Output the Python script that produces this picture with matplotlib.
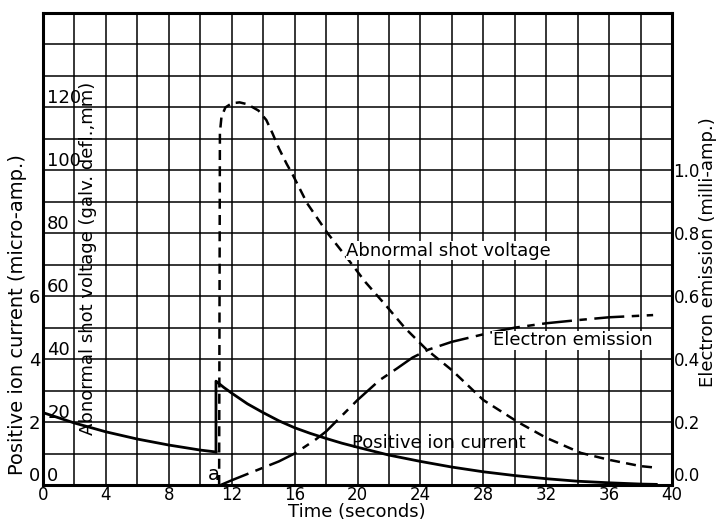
import matplotlib.pyplot as plt

plt.rcParams['font.family'] = ['DejaVu Sans']

# positive ion current (micro-amp.), before and after the shot
t_ion_before = [0, 2, 4, 6, 8, 10, 11.0]
ion_before = [2.3, 1.97, 1.69, 1.46, 1.27, 1.11, 1.05]
t_ion_after = [11.0, 11.0, 11.5, 12, 13, 14, 15, 16, 17, 18, 19, 20, 22, 24, 26, 28, 30, 32, 34, 36, 38, 39]
ion_after = [1.05, 3.3, 3.1, 2.92, 2.58, 2.3, 2.04, 1.82, 1.64, 1.48, 1.33, 1.2, 0.95, 0.75,
             0.57, 0.42, 0.3, 0.2, 0.12, 0.07, 0.03, 0.02]

# abnormal shot voltage (galv. defl., mm)
t_volt = [11.2, 11.25, 11.35, 11.6, 12.0, 12.5, 13.0, 13.7, 14.2, 14.6, 15.0, 15.5, 15.9, 16.8,
          18.1, 19.3, 20.5, 21.9, 23.0, 24.4, 26.0, 28.0, 30.2, 32.0, 34.2, 36.0, 38.0, 39.0]
volt = [0, 112, 117, 120, 121.3, 121.6, 121.0, 119, 116, 111.7, 107, 102, 98.4, 89.5,
        80, 72.4, 64.5, 56.5, 50, 43, 36.5, 27, 20, 15, 10.2, 8, 6, 5.5]

# electron emission (milli-amp.)
t_elec = [11.3, 12, 13, 14, 15, 16, 17.3, 18, 19, 20, 21.4, 22.5, 23.5, 24.5, 26, 28.6, 30, 32, 34, 36, 38.8]
elec = [0, 0.015, 0.035, 0.055, 0.075, 0.1, 0.143, 0.17, 0.22, 0.27, 0.333, 0.37, 0.405, 0.43, 0.455,
        0.486, 0.5, 0.514, 0.524, 0.533, 0.54]

time_ticks = [0, 4, 8, 12, 16, 20, 24, 28, 32, 36, 40]
ion_ticks = [0, 2, 4, 6]
volt_ticks = [0, 20, 40, 60, 80, 100, 120]
elec_ticks = [0.0, 0.2, 0.4, 0.6, 0.8, 1.0]

fig = plt.figure(figsize=(7.16, 5.23), dpi=100)
ax = fig.add_axes([43/716, 1-485/523, 629/716, 472/523])
ax.set_xlim(0, 40)
ax.set_ylim(0, 15)

# square graph paper grid
for gx in range(0, 41, 2):
    ax.axvline(gx, color='black', lw=1.1, zorder=1)
for gy in range(0, 16):
    ax.axhline(gy, color='black', lw=1.1, zorder=1)
for s in ax.spines.values():
    s.set_linewidth(2.2)

ax.set_xticks(time_ticks)
ax.set_xticklabels([str(v) for v in time_ticks], fontsize=12)
ax.set_yticks(ion_ticks)
ax.set_yticklabels([str(v) for v in ion_ticks], fontsize=13)
ax.tick_params(axis='x', length=0, pad=1)
ax.tick_params(axis='y', length=0, pad=2)
for lab in ax.get_yticklabels():
    lab.set_va('center_baseline')
ax.get_yticklabels()[0].set_va('bottom')

ax.plot(t_ion_before, ion_before, color='black', lw=2, zorder=3)
ax.plot(t_ion_after, ion_after, color='black', lw=2, zorder=3)

ax2 = ax.twinx()
ax2.set_ylim(0, 1.5)
ax2.set_yticks(elec_ticks)
ax2.set_yticklabels(['%.1f' % v for v in elec_ticks], fontsize=12)
ax2.tick_params(length=0, pad=1)
for lab in ax2.get_yticklabels():
    lab.set_va('center_baseline')
ax2.get_yticklabels()[0].set_va('bottom')
ax2.plot(t_elec, elec, color='black', lw=1.8, dashes=(12, 3, 3, 3), zorder=3)

ax3 = ax.twinx()
ax3.set_ylim(0, 150)
ax3.yaxis.set_ticks_position('left')
ax3.set_yticks(volt_ticks)
ax3.set_yticklabels([str(v) for v in volt_ticks], fontsize=13)
ax3.tick_params(axis='y', length=0, pad=-3)
for lab in ax3.get_yticklabels():
    lab.set_ha('left')
    lab.set_va('bottom')
ax3.plot(t_volt, volt, color='black', lw=1.8, dashes=(4, 2.5), zorder=3)
for a in (ax2, ax3):
    for s in a.spines.values():
        s.set_visible(False)

ax.text(10.5, 0.15, 'a', fontsize=14)
ax3.text(19.3, 74.5, 'Abnormal shot voltage', fontsize=13, va='center',
         bbox=dict(facecolor='white', edgecolor='none', pad=0.5))
ax2.text(28.6, 0.46, 'Electron emission', fontsize=13, va='center',
         bbox=dict(facecolor='white', edgecolor='none', pad=0.5))
ax.text(19.65, 1.33, 'Positive ion current', fontsize=13, va='center')

fig.text(357/716, 2/523, 'Time (seconds)', fontsize=13, ha='center', va='bottom')
fig.text(18/716, 1-315/523, 'Positive ion current (micro-amp.)', fontsize=14,
         rotation=90, ha='center', va='center')
fig.text(88/716, 1-258/523, 'Abnormal shot voltage (galv. defl.,mm)', fontsize=13,
         rotation=90, ha='center', va='center')
fig.text(708/716, 1-252/523, 'Electron emission (milli-amp.)', fontsize=13,
         rotation=90, ha='center', va='center')

fig.savefig('out.png', dpi=100)
